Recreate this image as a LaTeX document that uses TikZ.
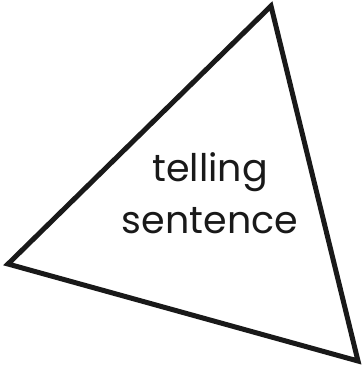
\documentclass[tikz,border=0pt]{standalone}
\usepackage{fontspec}
\setmainfont{Poppins}
\begin{document}
\begin{tikzpicture}[x=1pt,y=-1pt,
  tri/.style={draw=black!90,line width=5pt,line join=miter},
  lbl/.style={font=\fontsize{38}{51}\selectfont,text=black!90,align=center,inner sep=0pt}]
\useasboundingbox (0,0) rectangle (363,371);
\coordinate (A) at (271,6);
\coordinate (B) at (8,264);
\coordinate (C) at (358,361);
\draw[tri] (A) -- (B) -- (C) -- cycle;
\node[lbl,anchor=base] (t1) at (210,182) {telling};
\node[lbl,anchor=base] (t2) at (210,233) {sentence};
\end{tikzpicture}
\end{document}
